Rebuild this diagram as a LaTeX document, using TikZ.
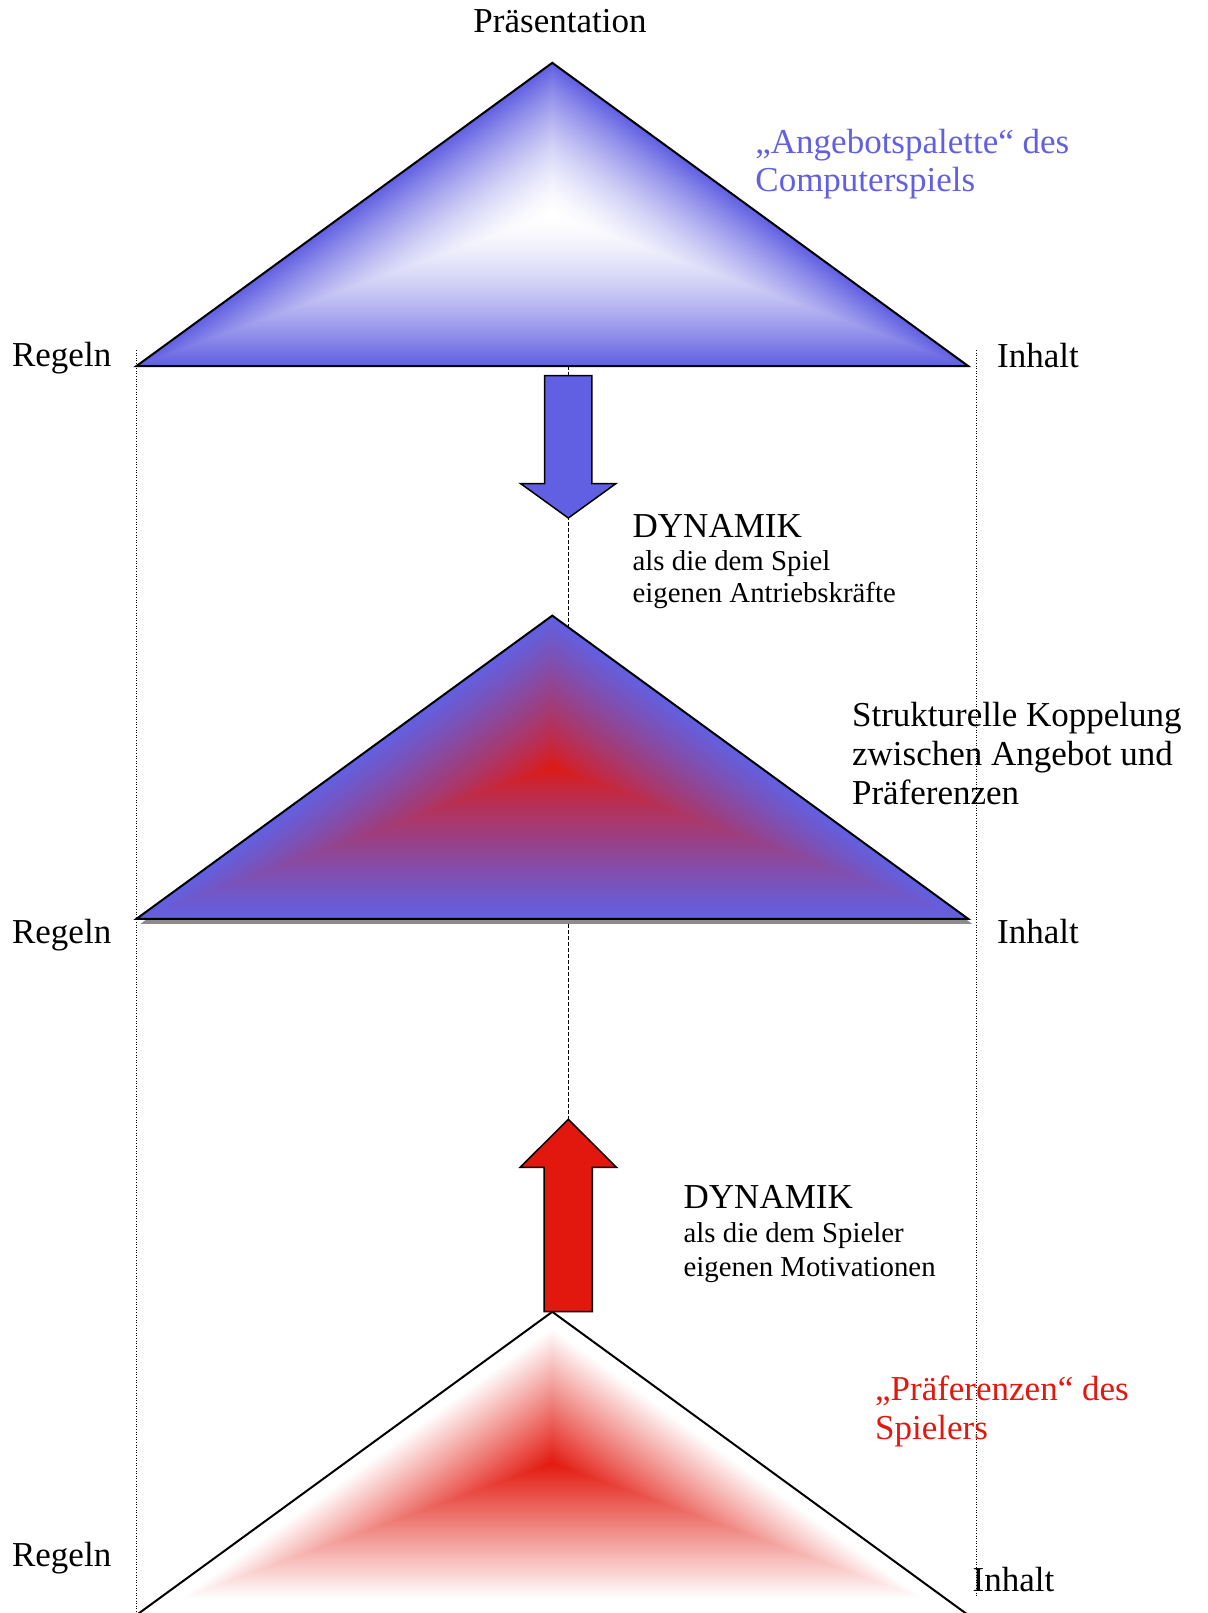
\documentclass[tikz,border=0pt]{standalone}
\usepackage{fontspec}
\setmainfont{Liberation Serif}
\usetikzlibrary{positioning}

\definecolor{angebotblau}{RGB}{98,96,226}
\definecolor{spielerrot}{RGB}{226,24,14}
\definecolor{schatten}{RGB}{140,140,140}

% triangle with a path gradient: centre x, centre y, edge colour, centre colour, exponent, reach
\newcommand{\verlaufdreieck}[6]{%
  \foreach \i in {0,...,69}{
    \pgfmathsetmacro{\tf}{1-\i/70}
    \pgfmathsetmacro{\pc}{100*(min(1,\tf/#6))^(#5)}
    \begin{scope}[shift={(#1,#2)}, scale=\tf]
      \fill[#3!\pc!#4] (0,-151.6) -- (415.8,151.6) -- (-415.8,151.6) -- cycle;
    \end{scope}
  }%
}

\tikzset{
  txt/.style={inner sep=0pt, anchor=base west, font=\fontsize{17.5}{21}\selectfont},
  smalltxt/.style={inner sep=0pt, anchor=base west, font=\fontsize{14.4}{17}\selectfont},
  outline/.style={draw=black, line width=1pt, line join=miter},
  blockpfeil/.style={draw=black, line width=0.75pt, line join=miter},
  seitenlinie/.style={line width=0.5pt, dash pattern=on 0.5pt off 0.8pt},
  mittellinie/.style={line width=0.5pt, dash pattern=on 2pt off 1pt}
}

\begin{document}
\begin{tikzpicture}[x=0.5pt, y=-0.5pt]
        \useasboundingbox (0,0) rectangle (1207,1613);

        % Corners of the three triangles
        \coordinate (T1a) at (552.3,62.8);
        \coordinate (T1l) at (136.5,366);
        \coordinate (T1r) at (968.1,366);
        \coordinate (T2a) at (552.3,615.6);
        \coordinate (T2l) at (136.5,918.8);
        \coordinate (T2r) at (968.1,918.8);
        \coordinate (T3a) at (552.3,1311.8);
        \coordinate (T3l) at (136.5,1615);
        \coordinate (T3r) at (968.1,1615);

        % Ends of the guide lines
        \coordinate (L1) at (136,350);
        \coordinate (L2) at (136,1613);
        \coordinate (R1) at (976,350);
        \coordinate (R2) at (976,1596);
        \coordinate (M1) at (568.3,366);
        \coordinate (M2) at (568.3,1119.3);

        % Guide lines (behind everything)
        \draw[seitenlinie] (L1) -- (L2);
        \draw[seitenlinie] (R1) -- (R2);
        \draw[mittellinie] (M1) -- (M2);

        % Upper triangle: blue edges, white centre
        \verlaufdreieck{552.3}{214.4}{angebotblau}{white}{1.6}{1}
        \draw[outline] (T1a) -- (T1l) -- (T1r) -- cycle;

        % Middle triangle: blue edges, red centre, with shadow
        \fill[schatten] ([shift={(4,5)}]T2a) -- ([shift={(4,5)}]T2l) -- ([shift={(4,5)}]T2r) -- cycle;
        \verlaufdreieck{552.3}{767.2}{angebotblau}{spielerrot}{0.8}{1}
        \draw[outline] (T2a) -- (T2l) -- (T2r) -- cycle;

        % Lower triangle: white edges, red centre
        \verlaufdreieck{552.3}{1463.4}{white}{spielerrot}{1}{0.9}
        \draw[outline] (T3a) -- (T3l) -- (T3r) -- cycle;

        % Block arrows
        \filldraw[blockpfeil, fill=angebotblau] (544.5,375.5) -- (591.8,375.5) -- (591.8,483.5)
            -- (616,483.5) -- (568.3,518) -- (520.5,483.5) -- (544.5,483.5) -- cycle;
        \filldraw[blockpfeil, fill=spielerrot] (544.2,1311.7) -- (592.3,1311.7) -- (592.3,1167.3)
            -- (616.5,1167.3) -- (568.3,1119.3) -- (520.2,1167.3) -- (544.2,1167.3) -- cycle;

        % Corner labels
        \node[txt, anchor=base] (praes) at (560,32.3) {Präsentation};
        \node[txt] (regeln1) at (11.7,366.7) {Regeln};
        \node[txt] (inhalt1) at (996.7,367) {Inhalt};
        \node[txt] (regeln2) at (11.7,943.3) {Regeln};
        \node[txt] (inhalt2) at (996.7,943.3) {Inhalt};
        \node[txt] (regeln3) at (11.7,1566.7) {Regeln};
        \node[txt] (inhalt3) at (972.2,1591.7) {Inhalt};

        % Side texts
        \node[txt, text=angebotblau] (angebotA) at (755,153.3) {„Angebotspalette“ des};
        \node[txt, text=angebotblau] (angebotB) at (755,191.5) {Computerspiels};

        \node[txt] (dynA) at (632.3,537.3) {DYNAMIK};
        \node[smalltxt] (dynAb) at (632.3,570) {als die dem Spiel};
        \node[smalltxt] (dynAc) at (632.3,602) {eigenen Antriebskräfte};

        \node[txt] (kopplA) at (851.7,726) {Strukturelle Koppelung};
        \node[txt] (kopplB) at (851.7,765) {zwischen Angebot und};
        \node[txt] (kopplC) at (851.7,804) {Präferenzen};

        \node[txt] (dynB) at (683.3,1208.3) {DYNAMIK};
        \node[smalltxt] (dynBb) at (683.3,1242.5) {als die dem Spieler};
        \node[smalltxt] (dynBc) at (683.3,1276.5) {eigenen Motivationen};

        \node[txt, text=spielerrot] (praefA) at (874.7,1400) {„Präferenzen“ des};
        \node[txt, text=spielerrot] (praefB) at (874.7,1439.5) {Spielers};
\end{tikzpicture}
\end{document}
